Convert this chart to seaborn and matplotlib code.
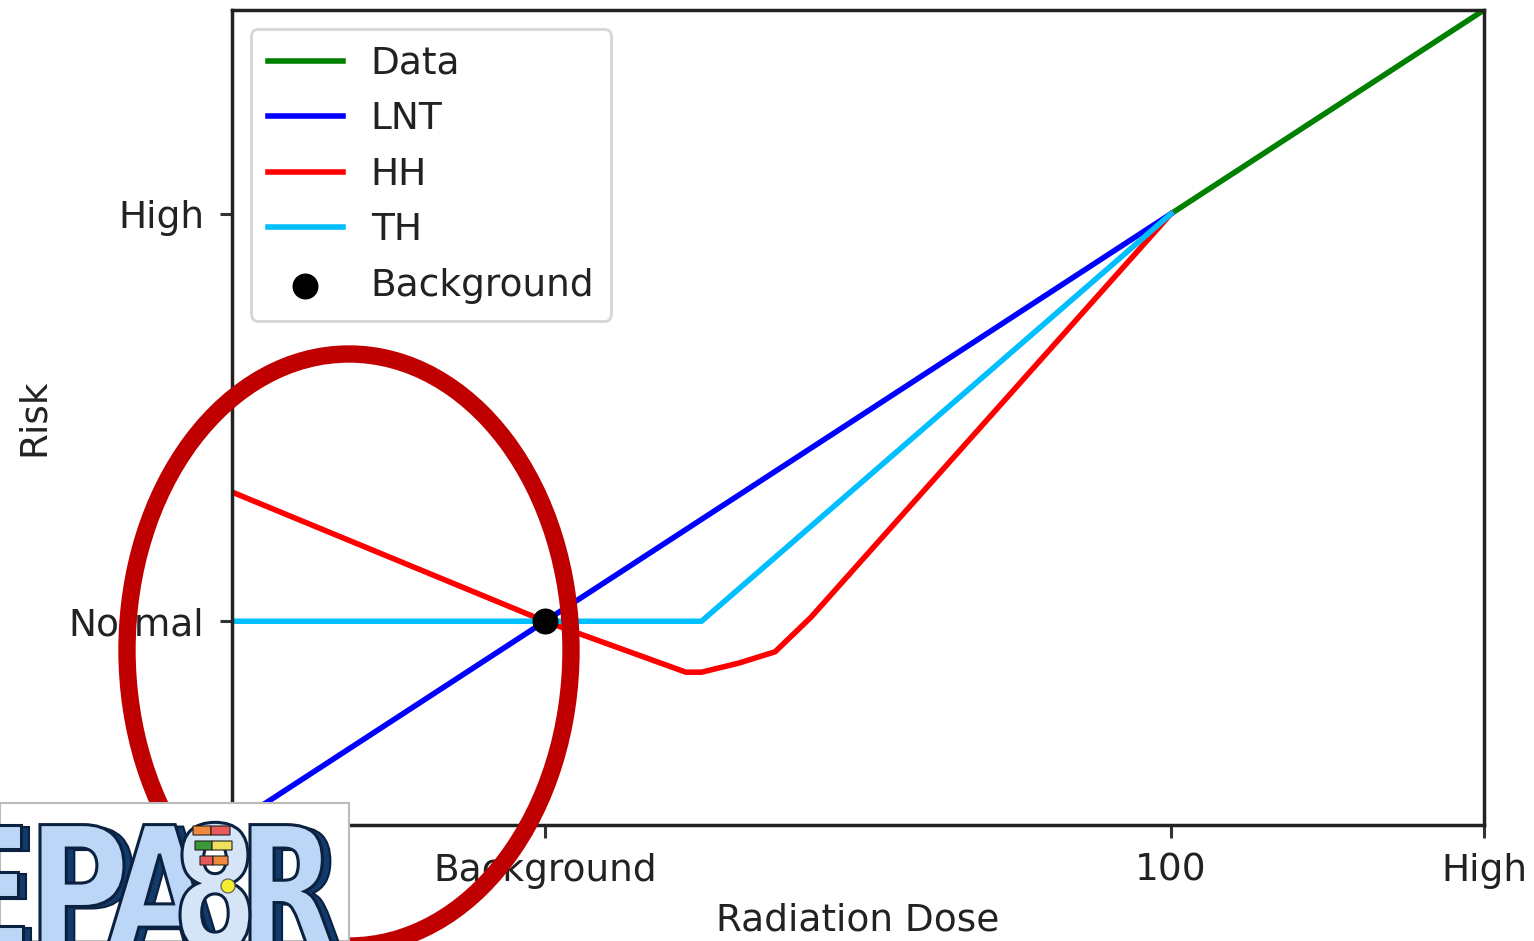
import matplotlib
matplotlib.use("Agg")
import matplotlib.pyplot as plt
import matplotlib.patches as mpatches
from matplotlib.textpath import TextPath
from matplotlib.font_manager import FontProperties
from matplotlib.transforms import Affine2D
import seaborn as sns

# ---- data ----
x_ticks = [1, 3, 4]
x_ticklabels = ["Background", "100", "High"]
y_ticks = [1, 3]
y_ticklabels = ["Normal", "High"]

data_x = [3, 4]
data_y = [3, 4]
lnt_x = [0, 1, 3]
lnt_y = [0, 1, 3]
hh_x = [0, 1, 1.45, 1.50, 1.62, 1.735, 1.85, 3]
hh_y = [1.634, 1, 0.75, 0.75, 0.795, 0.85, 1.02, 3]
th_x = [0, 1.5, 3]
th_y = [1, 1, 3]
bg_x = [1]
bg_y = [1]

W, H = 1534, 941
fig = plt.figure(figsize=(W / 100, H / 100), dpi=100)
ax = fig.add_axes([232 / W, 1 - 825 / H, (1484 - 232) / W, (825 - 10) / H])

FS = 27
LW = 4
INK = "#222222"

sns.lineplot(x=data_x, y=data_y, ax=ax, color="green", lw=LW, label="Data")
sns.lineplot(x=lnt_x, y=lnt_y, ax=ax, color="blue", lw=LW, label="LNT")
sns.lineplot(x=hh_x, y=hh_y, ax=ax, color="red", lw=LW, label="HH", sort=False)
sns.lineplot(x=th_x, y=th_y, ax=ax, color="deepskyblue", lw=LW, label="TH")
sns.scatterplot(x=bg_x, y=bg_y, ax=ax, color="black", s=300, label="Background",
                edgecolor="black", zorder=5)

ax.set_xlim(0, 4)
ax.set_ylim(0, 4)
ax.set_xticks(x_ticks)
ax.set_xticklabels(x_ticklabels, fontsize=FS, color=INK)
ax.set_yticks(y_ticks)
ax.set_yticklabels(y_ticklabels, fontsize=FS, color=INK)
ax.tick_params(length=9, width=2.2, pad=11, color="#333333")
for s in ax.spines.values():
    s.set_linewidth(2.5)
    s.set_color(INK)
ax.set_xlabel("Radiation Dose", fontsize=FS, labelpad=10, color=INK)
ax.set_ylabel("Risk", fontsize=FS, labelpad=12, color=INK)

leg = ax.legend(loc="upper left", fontsize=FS, frameon=True, fancybox=True,
                borderaxespad=0.5, labelspacing=0.52, handlelength=2.0,
                handletextpad=0.75, borderpad=0.45)
leg.get_frame().set_edgecolor("#cccccc")
leg.get_frame().set_linewidth(2)
for t in leg.get_texts():
    t.set_color(INK)

# ---- red annotation ellipse ----
ell = mpatches.Ellipse((349 / W, 1 - 650 / H), 444 / W, 592 / H,
                       transform=fig.transFigure, fill=False,
                       edgecolor="#C00000", lw=12.5, zorder=5)
fig.patches.append(ell)

# ---- logo (raster picture in the reference, drawn here as artwork) ----
logo = mpatches.Rectangle((0, 0), 349 / W, (941 - 803) / H, transform=fig.transFigure,
                          facecolor="white", edgecolor="#bbbbbb", lw=1.5, zorder=10)
fig.patches.append(logo)

fp = FontProperties(family="DejaVu Sans", weight="bold")
to_disp = Affine2D().scale(1, -1).translate(0, H)  # image pixel coords -> display


def letter(ch, left, sx, sy=172, base=950, z=11, fill="#bcd6f7", shade=True):
    tp = TextPath((0, 0), ch, size=1, prop=fp)
    ext = tp.get_extents()
    base_tr = Affine2D().translate(-ext.x0, 0).scale(sx, -sy)
    if shade:
        sh = mpatches.PathPatch(tp, transform=base_tr + Affine2D().translate(left + 8, base + 2) + to_disp,
                                facecolor="#123a6b", edgecolor="#0b2140", lw=1.5, zorder=z)
        fig.patches.append(sh)
    p = mpatches.PathPatch(tp, transform=base_tr + Affine2D().translate(left, base) + to_disp,
                           facecolor=fill, edgecolor="#0b2140", lw=2.2, zorder=z + 0.5)
    fig.patches.append(p)


letter("E", -50, 140)
letter("P", 40, 140)
letter("A", 106, 140)
letter("R", 250, 128)
letter("8", 180, 122, fill="#d6e4f8", shade=False)

for (x0, x1, y0, c) in [(193, 211, 826, "#f08a3a"), (211, 230, 826, "#e85a5a"),
                        (195, 212, 841, "#3a9a3a"), (212, 232, 841, "#f0e060"),
                        (200, 213, 856, "#e85a5a"), (213, 228, 856, "#f08a3a")]:
    fig.patches.append(mpatches.FancyBboxPatch((x0 / W, 1 - (y0 + 9) / H), (x1 - x0) / W, 9 / H,
                                               boxstyle="round,pad=0", transform=fig.transFigure,
                                               facecolor=c, edgecolor=INK, lw=0.8, zorder=13))
fig.patches.append(mpatches.Ellipse((228 / W, 1 - 886 / H), 14 / W, 14 / H,
                                    transform=fig.transFigure, facecolor="#f5ee30",
                                    edgecolor="#555555", lw=0.8, zorder=13))

fig.savefig("out.png", dpi=100)
